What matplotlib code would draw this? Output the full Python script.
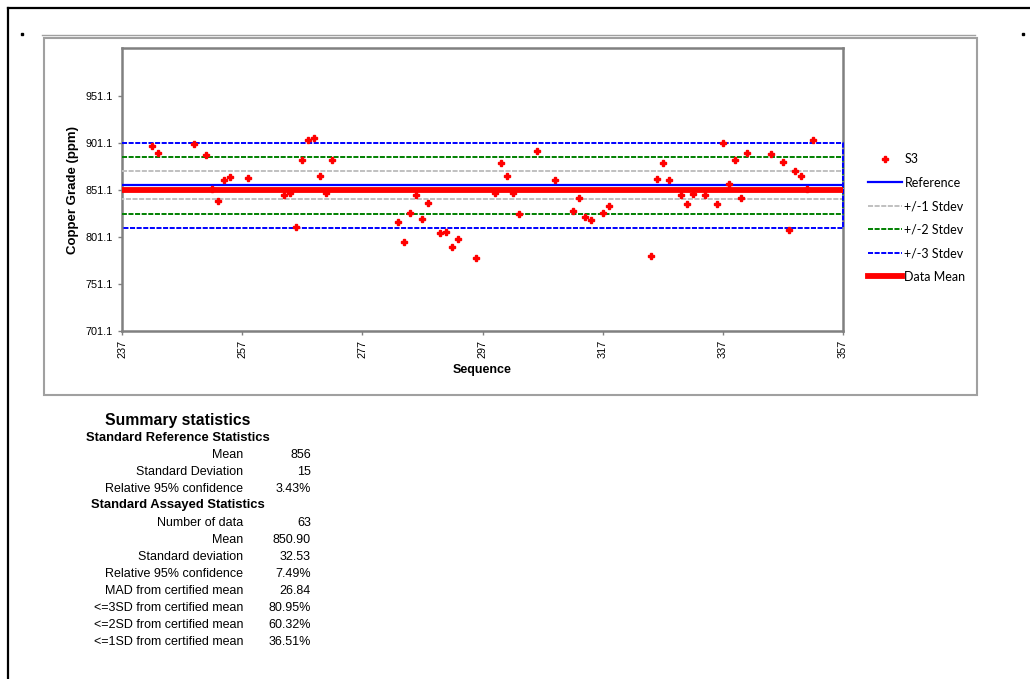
import matplotlib
matplotlib.use("Agg")
import matplotlib.pyplot as plt
from matplotlib.lines import Line2D
from matplotlib.patches import Rectangle
import numpy as np

# Assay results for standard S3, by sample sequence number
sequence = [242, 243, 249, 251, 252, 253, 254, 255,
            258, 264, 265, 266, 267, 268, 269, 270, 271, 272,
            283, 284, 285, 286, 287, 288, 290, 291, 292, 293, 296,
            299, 300, 301, 302, 303, 306, 309, 312, 313, 314, 315, 317, 318,
            325, 326, 327, 328, 330, 331, 332, 334, 336, 337, 338, 339, 340,
            341, 345, 347, 348, 349, 350, 351, 352]
copper = [897.9, 890.5, 899.4, 888.3, 852.6, 839.4, 862.1, 865.3,
          863.9, 845.5, 847.6, 811.4, 883.0, 904.3, 906.8, 866.0, 847.9, 883.0,
          816.7, 795.5, 826.6, 845.5, 820.3, 837.3, 805.4, 806.4, 790.1, 799.0, 778.8,
          848.3, 879.8, 865.4, 848.3, 825.6, 892.0, 861.7, 828.4, 842.6, 822.4, 819.2, 826.6, 834.1,
          780.9, 862.8, 879.8, 861.4, 845.5, 836.2, 846.8, 845.8, 836.2, 901.5, 857.9, 882.4, 843.0,
          890.5, 889.8, 880.9, 809.0, 871.3, 866.0, 852.6, 904.3]

ref_mean = 856
ref_sd = 15
data_mean = 850.90
seq_range = [237, 357]

y_ticks = [701.1, 751.1, 801.1, 851.1, 901.1, 951.1]
x_ticks = [237, 257, 277, 297, 317, 337, 357]

ref_rows = [("Mean", "856"), ("Standard Deviation", "15"),
            ("Relative 95% confidence", "3.43%")]
assay_rows = [("Number of data", "63"), ("Mean", "850.90"),
              ("Standard deviation", "32.53"), ("Relative 95% confidence", "7.49%"),
              ("MAD from certified mean", "26.84"),
              ("<=3SD from certified mean", "80.95%"),
              ("<=2SD from certified mean", "60.32%"),
              ("<=1SD from certified mean", "36.51%")]

plt.rcParams["font.family"] = ["Liberation Sans", "DejaVu Sans"]

W, H = 1030, 679
fig = plt.figure(figsize=(W / 100, H / 100), dpi=100)

def fx(px):
    return px / W

def fy(py):
    return 1 - py / H

# page border and chart frame
fig.add_artist(Line2D([fx(8), fx(8)], [fy(8), 0], color="black", lw=1.6))
fig.add_artist(Line2D([fx(8), 1], [fy(8), fy(8)], color="black", lw=1.6))
fig.add_artist(Line2D([fx(42), fx(975)], [fy(35), fy(35)], color="#a0a0a0", lw=1.0))
fig.add_artist(Rectangle((fx(44), fy(395)), fx(977) - fx(44), fy(38) - fy(395),
                         fill=False, edgecolor="#a0a0a0", lw=1.5))
for px in (22, 1023):
    fig.add_artist(Line2D([fx(px)], [fy(34)], ls="none", marker="s", ms=1.6,
                          color="black"))

ax = fig.add_axes([fx(122), fy(331), fx(843) - fx(122), fy(48) - fy(331)])

dash = (0, (2.6, 0.8))
# control limits drawn as Excel-style scatter paths (closing at the right edge)
xs = [seq_range[0], seq_range[1], seq_range[1], seq_range[0]]
for k, col in [(1, "#c0c0c0"), (2, "#008000"), (3, "#0000ff")]:
    ys = [ref_mean + k * ref_sd, ref_mean + k * ref_sd,
          ref_mean - k * ref_sd, ref_mean - k * ref_sd]
    ax.plot(xs, ys, color=col, lw=1.4, ls=dash, clip_on=False, zorder=3)
ax.plot(seq_range, [ref_mean, ref_mean], color="#0000ff", lw=1.6, zorder=3)
ax.plot(seq_range, [data_mean, data_mean], color="#ff0000", lw=4.2,
        solid_capstyle="butt", clip_on=False, zorder=3)
ax.plot(sequence, copper, ls="none", marker="P", ms=4.6, color="#ff0000",
        mec="#ff0000", zorder=4)

ax.set_xlim(seq_range)
ax.set_ylim(701.1, 1002)
ax.set_xticks(x_ticks)
ax.set_xticklabels([str(v) for v in x_ticks], rotation=90, fontsize=7.8)
ax.set_yticks(y_ticks)
ax.set_yticklabels([f"{v:.1f}" for v in y_ticks], fontsize=7.8)
ax.tick_params(direction="out", length=3, color="#808080", width=1)
for sp in ax.spines.values():
    sp.set_color("#808080")
    sp.set_linewidth(1.8)
ax.set_xlabel("Sequence", fontsize=9, fontweight="bold", labelpad=4)
ax.set_ylabel("Copper Grade (ppm)", fontsize=9.5, fontweight="bold", labelpad=5)

handles = [
    Line2D([], [], ls="none", marker="P", ms=4, color="#ff0000"),
    Line2D([], [], color="#0000ff", lw=1.6),
    Line2D([], [], color="#c0c0c0", lw=1.4, ls=dash),
    Line2D([], [], color="#008000", lw=1.4, ls=dash),
    Line2D([], [], color="#0000ff", lw=1.4, ls=dash),
    Line2D([], [], color="#ff0000", lw=4.2),
]
labels = ["S3", "Reference", "+/-1 Stdev", "+/-2 Stdev", "+/-3 Stdev", "Data Mean"]
fig.legend(handles, labels, loc="upper left", bbox_to_anchor=(fx(857), fy(142)),
           frameon=False, prop={"family": "Lato", "size": 9}, handlelength=2.7,
           handletextpad=0.2, labelspacing=0.92)

# summary statistics block
fig.text(fx(178), fy(421), "Summary statistics", fontsize=11.3, fontweight="bold",
         ha="center", va="center")
fig.text(fx(178), fy(438), "Standard Reference Statistics", fontsize=9.4,
         fontweight="bold", ha="center", va="center")
y = 455
for lab, val in ref_rows:
    fig.text(fx(243), fy(y), lab, fontsize=9, ha="right", va="center")
    fig.text(fx(311), fy(y), val, fontsize=9, ha="right", va="center")
    y += 17
fig.text(fx(178), fy(y - 1), "Standard Assayed Statistics", fontsize=9.4,
         fontweight="bold", ha="center", va="center")
y += 17
for lab, val in assay_rows:
    fig.text(fx(243), fy(y), lab, fontsize=9, ha="right", va="center")
    fig.text(fx(311), fy(y), val, fontsize=9, ha="right", va="center")
    y += 17

fig.savefig("out.png", dpi=100)
